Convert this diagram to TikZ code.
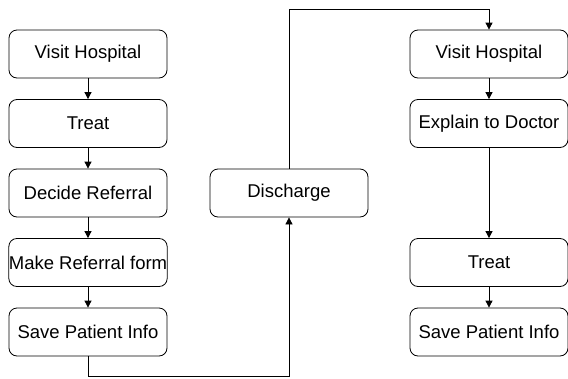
\documentclass[tikz,border=0pt]{standalone}
\usepackage{fontspec}
\setmainfont{Liberation Sans}
\usetikzlibrary{arrows.meta}

\begin{document}
\begin{tikzpicture}[x=1pt,y=-1pt,
  proc/.style={draw, rounded corners=8pt, minimum width=158pt, minimum height=48pt,
    inner sep=0pt, line width=0.8pt, font=\fontsize{18.5}{20}\selectfont},
  link/.style={-{Triangle[length=7pt,width=7pt]}, line width=0.8pt}]
\useasboundingbox (0,0) rectangle (568,378);

\def\XL{88}
\def\XM{289}
\def\XR{489}
\def\DY{69.5}

% ----- left column: referring hospital -----
\foreach \n/\t [count=\i from 0] in {lVisit/Visit Hospital, lTreat/Treat,
    lDecide/Decide Referral, lMake/Make Referral form, lSave/Save Patient Info}
  \node[proc] (\n) at (\XL,54+\i*\DY) {\t};
\draw[link] (lVisit) -- (lTreat);
\draw[link] (lTreat) -- (lDecide);
\draw[link] (lDecide) -- (lMake);
\draw[link] (lMake) -- (lSave);

% ----- middle: discharge -----
\node[proc] (dis) at (\XM,54+2*\DY) {Discharge};

% ----- right column: receiving hospital -----
\node[proc] (rVisit) at (\XR,54) {Visit Hospital};
\node[proc] (rExplain) at (\XR,54+\DY) {Explain to Doctor};
\node[proc] (rTreat) at (\XR,54+3*\DY) {Treat};
\node[proc] (rSave) at (\XR,54+4*\DY) {Save Patient Info};
\draw[link] (rVisit) -- (rExplain);
\draw[link] (rExplain) -- (rTreat);
\draw[link] (rTreat) -- (rSave);

% ----- routes between columns -----
\coordinate (bot) at (\XM,376);
\coordinate (top) at (\XM,9);
\draw[link] (lSave.south) |- (bot) -- (dis.south);
\draw[link] (dis.north) -- (top) -| (rVisit.north);

\end{tikzpicture}
\end{document}
